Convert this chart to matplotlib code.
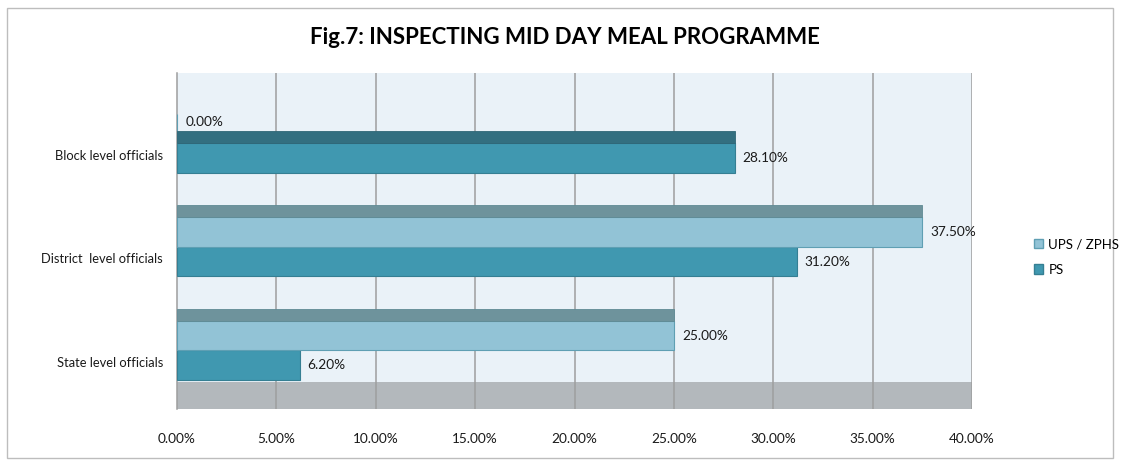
import matplotlib
matplotlib.use("Agg")
import matplotlib.pyplot as plt
from matplotlib.patches import Rectangle, Patch

# ---- data ----
categories = ["Block level officials", "District  level officials", "State level officials"]
ups_zphs = [0.0, 37.5, 25.0]
ps = [28.1, 31.2, 6.2]
xticks = [0, 5, 10, 15, 20, 25, 30, 35, 40]

plt.rcParams['font.family'] = ['Lato', 'DejaVu Sans']

fig = plt.figure(figsize=(11.22, 4.65), dpi=100)
fig.patches.append(Rectangle((7 / 1122, 1 - 458 / 465), 1106 / 1122, 450 / 465,
                             transform=fig.transFigure, fill=False,
                             edgecolor='#bdbdbd', linewidth=1))

ax = fig.add_axes([177 / 1122, 1 - 409 / 465, 795 / 1122, 336 / 465])

unit = 103.5
bh = 29.5 / unit      # bar thickness
th = 12 / unit        # 3d top face thickness

ax.set_facecolor('#eaf2f8')
ax.set_xlim(0, 40)
ax.set_ylim((409 - 158) / unit, (73 - 158) / unit)

# floor
ax.axhspan((382 - 158) / unit, (409 - 158) / unit, color='#b3b8bc', zorder=0.5, linewidth=0)

for x in xticks[1:]:
    ax.axvline(x, color='#9e9e9e', linewidth=1.1, zorder=1)

ypos = list(range(len(categories)))
ps_y = ypos
ups_y = [y - bh for y in ypos]

ax.barh(ps_y, ps, height=bh, color='#4098b0', edgecolor='#357f93', linewidth=0.8, zorder=3)
ax.barh(ups_y, ups_zphs, height=bh, color='#92c3d6', edgecolor='#5f9fb3', linewidth=0.8, zorder=3)

# 3d top faces
for i in ypos:
    if ups_zphs[i] > 0:
        ax.barh(ups_y[i] - bh / 2 - th / 2, ups_zphs[i], height=th, color='#6e939c',
                edgecolor='#5f8a94', linewidth=0.6, zorder=3)
    else:
        ax.barh(ps_y[i] - bh / 2 - th / 2, ps[i], height=th, color='#336f80',
                edgecolor='#2f6676', linewidth=0.6, zorder=3)

# value labels
for i in ypos:
    ax.annotate(f"{ps[i]:.2f}%", (ps[i], ps_y[i]), xytext=(5, 0), textcoords='offset points',
                va='center', ha='left', fontsize=9.8, color='#1a1a1a')
    yo = 5 if ups_zphs[i] == 0 else 0
    ax.annotate(f"{ups_zphs[i]:.2f}%", (ups_zphs[i], ups_y[i]), xytext=(6, yo),
                textcoords='offset points', va='center', ha='left', fontsize=9.8, color='#1a1a1a')

ax.set_xticks(xticks)
ax.set_xticklabels([f"{x:.2f}%" for x in xticks], fontsize=9.8, color='#1a1a1a')
ax.tick_params(axis='x', length=0, pad=17)
ax.set_yticks([y - 0.03 for y in ypos])
ax.set_yticklabels(categories, fontsize=9.3, color='#1a1a1a')
ax.tick_params(axis='y', length=0, pad=10)

for s in ['top', 'right', 'bottom']:
    ax.spines[s].set_visible(False)
ax.spines['left'].set_color('#9e9e9e')
ax.spines['left'].set_linewidth(1.1)

fig.text(565 / 1122, 1 - 37 / 465, "Fig.7: INSPECTING MID DAY MEAL PROGRAMME",
         ha='center', va='center', fontsize=16, fontweight='bold', color='#000000')

handles = [Patch(facecolor='#92c3d6', edgecolor='#5f9fb3', label='UPS / ZPHS'),
           Patch(facecolor='#4098b0', edgecolor='#357f93', label='PS')]
fig.legend(handles=handles, loc='center left', bbox_to_anchor=(1022 / 1122, 1 - 257 / 465),
           frameon=False, fontsize=9.5, handlelength=0.7, handleheight=0.7,
           handletextpad=0.4, labelspacing=1.0)

fig.savefig("out.png", dpi=100)
